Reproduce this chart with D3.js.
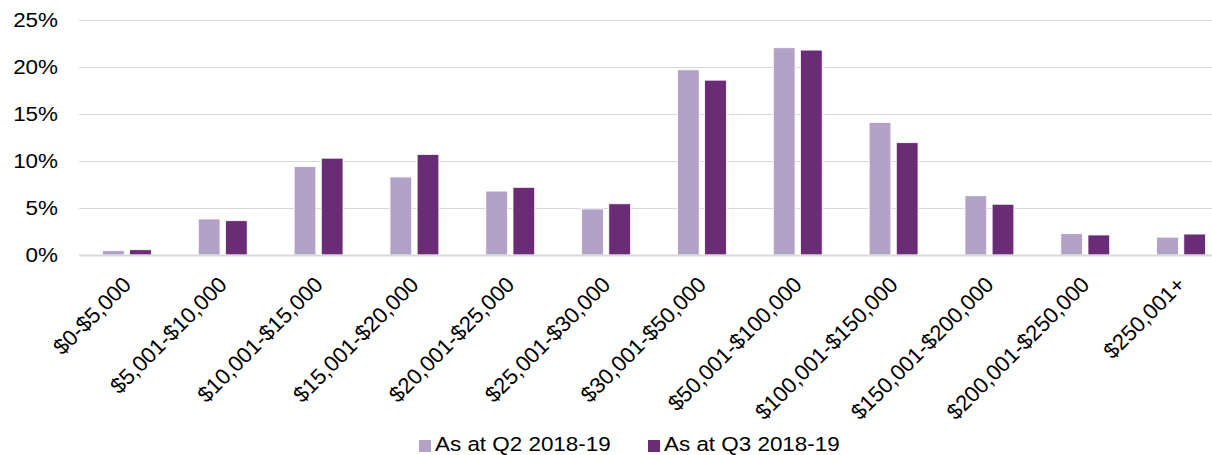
<!DOCTYPE html>
<html>
<head>
<meta charset="utf-8">
<script src="https://cdnjs.cloudflare.com/ajax/libs/d3/7.8.5/d3.min.js"></script>
<style>
  body { margin: 0; background: #fff; }
  #container { width: 1212px; height: 455px; overflow: hidden; }
  text { font-family: "Liberation Sans", Arial, sans-serif; fill: #000; }
</style>
</head>
<body>
<div id="container"></div>
<script>
const categories = ["$0-$5,000", "$5,001-$10,000", "$10,001-$15,000", "$15,001-$20,000",
  "$20,001-$25,000", "$25,001-$30,000", "$30,001-$50,000", "$50,001-$100,000",
  "$100,001-$150,000", "$150,001-$200,000", "$200,001-$250,000", "$250,001+"];
const seriesNames = ["As at Q2 2018-19", "As at Q3 2018-19"];
const q2Values = [0.46, 3.83, 9.4, 8.3, 6.8, 4.9, 19.7, 22.05, 14.1, 6.3, 2.27, 1.9];
const q3Values = [0.56, 3.65, 10.3, 10.7, 7.2, 5.45, 18.6, 21.8, 11.95, 5.4, 2.13, 2.23];
const yTicks = [0, 5, 10, 15, 20, 25];
const colors = ["#B3A2C7", "#6A2C75"];

document.addEventListener("DOMContentLoaded", () => {
  const w = 1212, h = 455;
  const left = 79, right = 1229, top = 20, bottom = 255;
  const sx = 1.15; // horizontal text looks a bit wide in the reference

  const rows = categories.map((c, i) => ({ cat: c, vals: [q2Values[i], q3Values[i]] }));

  const x0 = d3.scaleBand().domain(categories).range([left, right]).paddingInner(0.49).paddingOuter(0.245);
  const x1 = d3.scaleBand().domain(seriesNames).range([0, x0.bandwidth()]).paddingInner(0.2);
  const y = d3.scaleLinear().domain([0, 25]).range([bottom, top]);

  const svg = d3.select("#container").append("svg").attr("width", w).attr("height", h);

  // gridlines
  svg.append("g").selectAll("line")
     .data(yTicks.filter(d => d > 0))
     .enter().append("line")
     .attr("x1", left).attr("x2", w)
     .attr("y1", d => y(d) + 0.5).attr("y2", d => y(d) + 0.5)
     .attr("stroke", "#D9D9D9").attr("stroke-width", 1);

  // y labels
  svg.append("g").selectAll("text")
     .data(yTicks)
     .enter().append("text")
     .attr("transform", d => "translate(58," + (y(d) + 7) + ") scale(" + sx + ",1)")
     .attr("text-anchor", "end")
     .style("font-size", "19.5px")
     .text(d => d + "%");

  // bars
  const groups = svg.append("g").selectAll("g")
     .data(rows).enter().append("g")
     .attr("transform", d => "translate(" + x0(d.cat) + ",0)");
  groups.selectAll("rect")
     .data(d => d.vals.map((v, i) => ({ name: seriesNames[i], v: v, i: i })))
     .enter().append("rect")
     .attr("x", d => x1(d.name))
     .attr("y", d => y(d.v))
     .attr("width", x1.bandwidth())
     .attr("height", d => bottom - y(d.v))
     .attr("fill", d => colors[d.i])
     .attr("stroke", "#fff").attr("stroke-width", 0.8);

  // axis line
  svg.append("line")
     .attr("x1", left).attr("x2", w)
     .attr("y1", bottom + 0.5).attr("y2", bottom + 0.5)
     .attr("stroke", "#D9D9D9").attr("stroke-width", 2);

  // x labels, 45 degrees
  svg.append("g").selectAll("text")
     .data(categories)
     .enter().append("text")
     .attr("transform", d => "translate(" + (x0(d) + x0.bandwidth() / 2 + 5.5) + ",286) rotate(-45)")
     .attr("text-anchor", "end")
     .style("font-size", "22px")
     .text(d => d);

  // legend
  const legendX = [419, 648];
  const legend = svg.append("g").selectAll("g")
     .data(seriesNames).enter().append("g")
     .attr("transform", (d, i) => "translate(" + legendX[i] + ",440)");
  legend.append("rect")
     .attr("width", 12).attr("height", 12)
     .attr("fill", (d, i) => colors[i]);
  legend.append("text")
     .attr("transform", "translate(16,11) scale(" + sx + ",1)")
     .style("font-size", "19.5px")
     .text(d => d);
});
</script>
</body>
</html>
